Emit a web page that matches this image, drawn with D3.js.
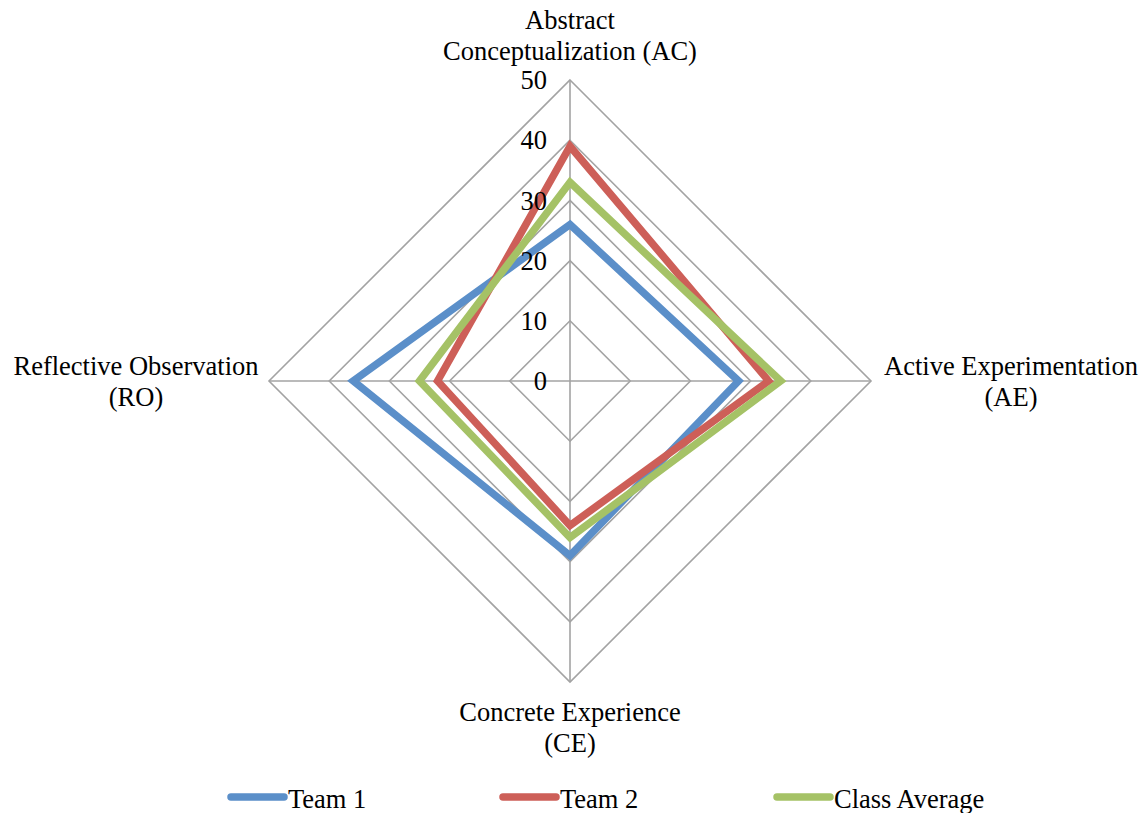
<!DOCTYPE html>
<html>
<head>
<meta charset="utf-8">
<script src="https://cdn.jsdelivr.net/npm/d3@7"></script>
<style>
  html, body { margin: 0; padding: 0; background: #fff; }
  svg text { font-family: "Liberation Serif", "Times New Roman", serif; fill: #000; }
</style>
</head>
<body>
<svg id="chart" width="1146" height="813"></svg>
<script>
// Learning-style dimensions, clockwise from the top
const axes = [
  ["Abstract", "Conceptualization (AC)"],
  ["Active Experimentation", "(AE)"],
  ["Concrete Experience", "(CE)"],
  ["Reflective Observation", "(RO)"]
];
const seriesNames = ["Team 1", "Team 2", "Class Average"];
const team1 = [26, 28, 29, 36];
const team2 = [39, 33, 24, 22];
const classAverage = [33, 35, 26, 25];
const ticks = [0, 10, 20, 30, 40, 50];
const colors = ["#5b8fc9", "#cd5f58", "#a5c266"];

const seriesValues = [team1, team2, classAverage];

const svg = d3.select("#chart");
const cx = 570, cy = 381, R = 301;
const fontSize = 26.5;

const r = d3.scaleLinear().domain([0, 50]).range([0, R]);
const angle = i => (i / axes.length) * 2 * Math.PI; // 0 at top, clockwise
const px = (i, v) => cx + r(v) * Math.sin(angle(i));
const py = (i, v) => cy - r(v) * Math.cos(angle(i));

const grid = svg.append("g");
// Rings
ticks.filter(t => t > 0).forEach(t => {
  const pts = axes.map((_, i) => [px(i, t), py(i, t)]);
  grid.append("path")
    .attr("d", d3.line()(pts) + "Z")
    .attr("fill", "none")
    .attr("stroke", "#a3a3a3")
    .attr("stroke-width", 1.6);
});
// Spokes
axes.forEach((_, i) => {
  grid.append("line")
    .attr("x1", cx).attr("y1", cy)
    .attr("x2", px(i, 50)).attr("y2", py(i, 50))
    .attr("stroke", "#a3a3a3")
    .attr("stroke-width", 1.6);
});

// Series polygons
const lineGen = d3.line()
  .x((d, i) => px(i, d))
  .y((d, i) => py(i, d))
  .curve(d3.curveLinearClosed);

seriesValues.forEach((vals, s) => {
  svg.append("path")
    .attr("d", lineGen(vals))
    .attr("fill", "none")
    .attr("stroke", colors[s])
    .attr("stroke-width", 7.5)
    .attr("stroke-linejoin", "miter")
    .attr("stroke-miterlimit", 10);
});

// Radial tick labels
svg.append("g").selectAll("text")
  .data(ticks)
  .join("text")
  .attr("x", cx - 23)
  .attr("y", d => cy - r(d))
  .attr("dy", "0.35em")
  .attr("text-anchor", "end")
  .attr("font-size", fontSize)
  .text(d => d);

// Category labels
const labelPos = [
  { x: cx, y: 20 },
  { x: 1011, y: 366 },
  { x: cx, y: 712 },
  { x: 136, y: 366 }
];
axes.forEach((lines, i) => {
  const t = svg.append("text")
    .attr("text-anchor", "middle")
    .attr("font-size", fontSize);
  lines.forEach((ln, k) => {
    t.append("tspan")
      .attr("x", labelPos[i].x)
      .attr("y", labelPos[i].y + k * 31)
      .attr("dy", "0.35em")
      .text(ln);
  });
});

// Legend
const legendX = [228, 500, 774];
const legend = svg.append("g");
seriesNames.forEach((name, s) => {
  legend.append("line")
    .attr("x1", legendX[s] + 3).attr("x2", legendX[s] + 56)
    .attr("y1", 797).attr("y2", 797)
    .attr("stroke", colors[s])
    .attr("stroke-width", 7.5)
    .attr("stroke-linecap", "round");
  legend.append("text")
    .attr("x", legendX[s] + 60)
    .attr("y", 799)
    .attr("dy", "0.35em")
    .attr("font-size", fontSize)
    .text(name);
});
</script>
</body>
</html>
